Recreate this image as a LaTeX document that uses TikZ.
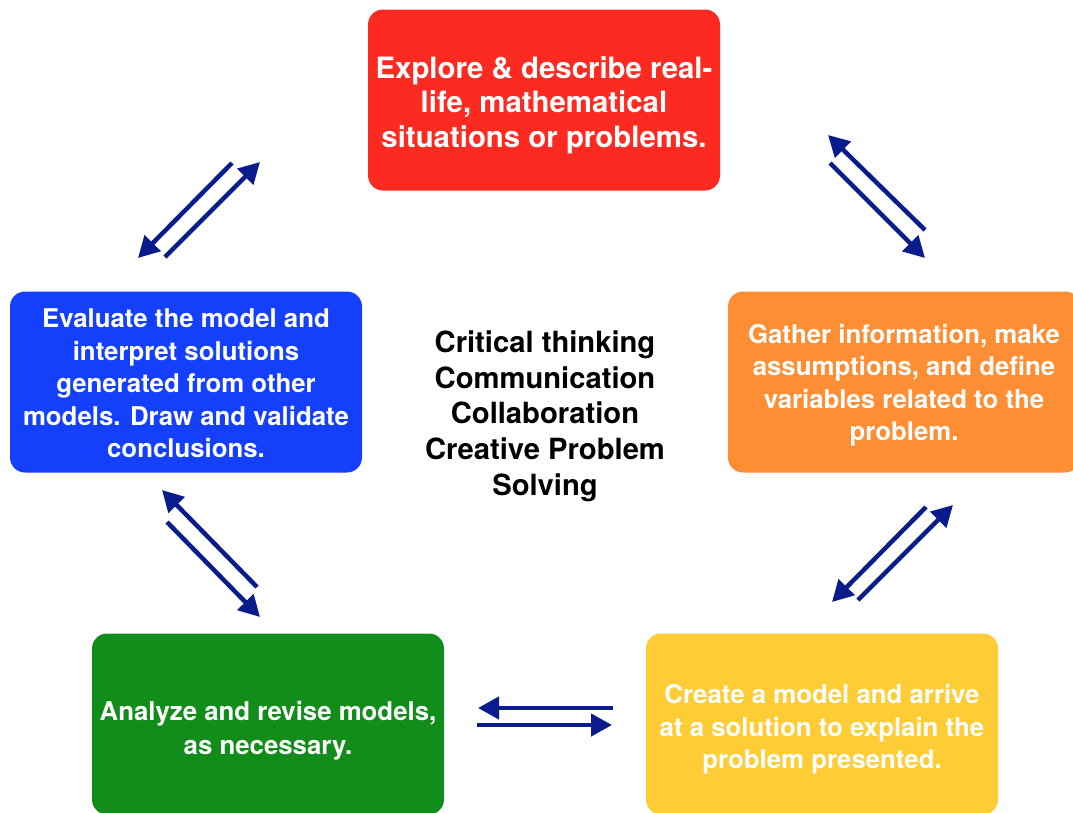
\documentclass[tikz,border=0pt]{standalone}
\usepackage{fontspec}
\setmainfont{TeX Gyre Heros}
\usetikzlibrary{arrows.meta,positioning}

\definecolor{exploreRed}{RGB}{252,42,32}
\definecolor{gatherOrange}{RGB}{254,142,52}
\definecolor{createYellow}{RGB}{254,204,52}
\definecolor{analyzeGreen}{RGB}{18,140,26}
\definecolor{evaluateBlue}{RGB}{20,64,252}
\definecolor{cycleNavy}{RGB}{10,28,140}

\tikzset{
  stage/.style = {shape = rectangle, rounded corners = 15pt, minimum width = 352pt, minimum height = 181pt,
    inner sep = 4pt, text depth = 0pt, text = white, align = center, font = \bfseries\fontsize{25.8}{32.5}\selectfont},
  flow/.style = {draw = cycleNavy, line width = 4.5pt, -{Triangle[length = 21pt, width = 22pt]}}
}

\begin{document}
\begin{tikzpicture}[x = 1pt, y = -1pt]
\clip (0,0) rectangle (1073,812);

\node[stage, fill = exploreRed, text height = 94pt, font = \bfseries\fontsize{29.4}{34.5}\selectfont] (explore) at (544,100) {Explore \& describe real-\\life, mathematical\\situations or problems.};
\node[stage, fill = gatherOrange, text height = 117pt] (gather) at (904,382) {Gather information, make\\assumptions, and define\\variables related to the\\problem.};
\node[stage, fill = createYellow, text height = 89pt] (create) at (822,724) {Create a model and arrive\\at a solution to explain the\\problem presented.};
\node[stage, fill = analyzeGreen, text height = 60pt, font = \bfseries\fontsize{25.8}{34}\selectfont] (analyze) at (268,724) {Analyze and revise models,\\as necessary.};
\node[stage, fill = evaluateBlue, text height = 151pt] (evaluate) at (186,382) {Evaluate the model and\\interpret solutions\\generated from other\\models. Draw and validate\\conclusions.};

\node[align = center, font = \bfseries\fontsize{29.2}{35.7}\selectfont] (skills) at (545,416) {Critical thinking\\Communication\\Collaboration\\Creative Problem\\Solving};

\coordinate (tl1s) at (232,163);
\coordinate (tl1e) at (138,258);
\coordinate (tl2s) at (165,257);
\coordinate (tl2e) at (260,162);
\coordinate (tr1s) at (925,230);
\coordinate (tr1e) at (828,135);
\coordinate (tr2s) at (830,163);
\coordinate (tr2e) at (925,258);
\coordinate (br1s) at (926,507);
\coordinate (br1e) at (832,602);
\coordinate (br2s) at (858,600);
\coordinate (br2e) at (953,505);
\coordinate (bl1s) at (257,587);
\coordinate (bl1e) at (162,490);
\coordinate (bl2s) at (167,522);
\coordinate (bl2e) at (260,617);
\coordinate (bm1s) at (613,708);
\coordinate (bm1e) at (478,708);
\coordinate (bm2s) at (477,725);
\coordinate (bm2e) at (612,725);

\draw[flow] (tl1s) -- (tl1e);
\draw[flow] (tl2s) -- (tl2e);
\draw[flow] (tr1s) -- (tr1e);
\draw[flow] (tr2s) -- (tr2e);
\draw[flow] (br1s) -- (br1e);
\draw[flow] (br2s) -- (br2e);
\draw[flow] (bl1s) -- (bl1e);
\draw[flow] (bl2s) -- (bl2e);
\draw[flow] (bm1s) -- (bm1e);
\draw[flow] (bm2s) -- (bm2e);
\end{tikzpicture}
\end{document}
